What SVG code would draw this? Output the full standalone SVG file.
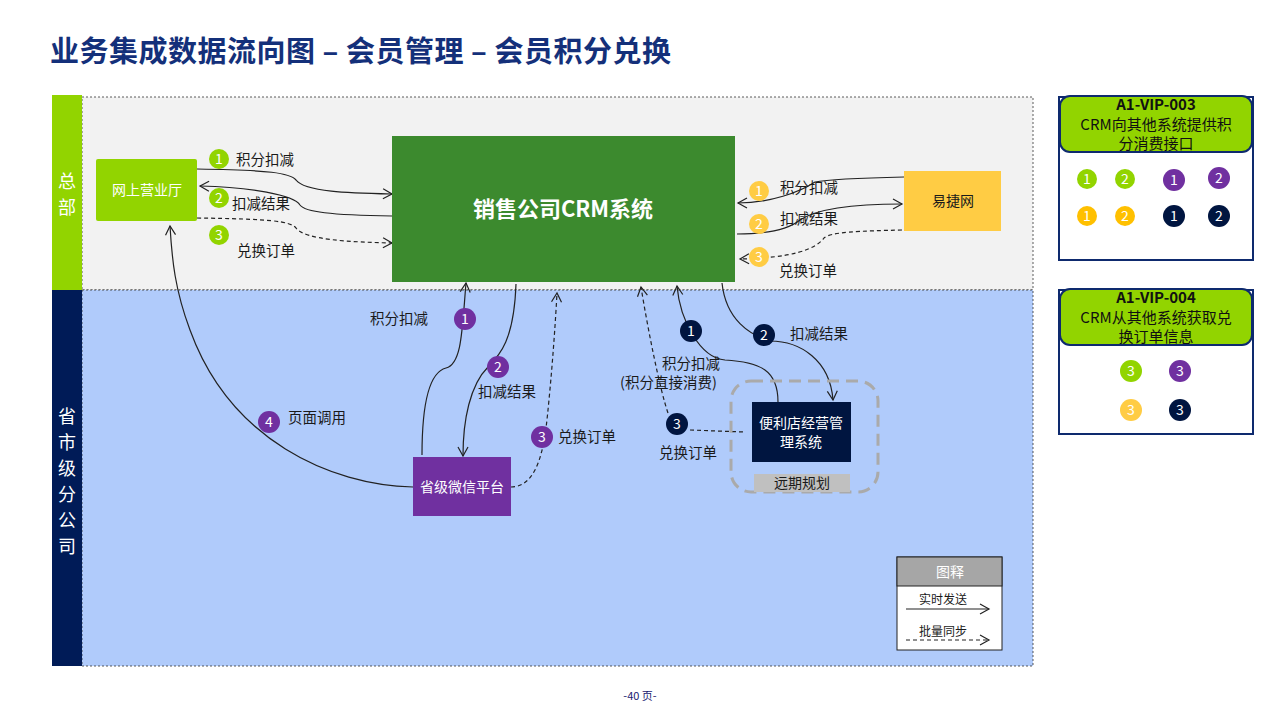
<svg xmlns="http://www.w3.org/2000/svg" width="1280" height="720" viewBox="0 0 1280 720">
<defs>
<marker id="arr" markerWidth="12" markerHeight="12" refX="10" refY="6" orient="auto" markerUnits="userSpaceOnUse"><path d="M1,1 L10,6 L1,11" fill="none" stroke="#222" stroke-width="1.2"/></marker>
<style>
text{font-family:"Noto Sans CJK SC","Liberation Sans",sans-serif;}
.lbl{font-size:14.5px;fill:#1a1a1a;}
.wt{fill:#fff;}
.c{stroke:#222;stroke-width:1.2;fill:none;marker-end:url(#arr);}
.d{stroke:#222;stroke-width:1.2;fill:none;stroke-dasharray:4,3;marker-end:url(#arr);}
.num{font-size:14px;fill:#fff;text-anchor:middle;}
.g{fill:#92d400;}
.p{fill:#7030a0;}
.y{fill:#ffc000;}
.yl{fill:#ffcc44;}
.n{fill:#001540;}
</style>
</defs>
<rect width="1280" height="720" fill="#fff"/>
<text x="50" y="62" font-size="29" font-weight="bold" fill="#14307a" letter-spacing="0.5">业务集成数据流向图 – 会员管理 – 会员积分兑换</text>

<g id="lanes">
<rect x="82" y="97" width="951" height="193" fill="#f2f2f2" stroke="#333" stroke-width="0.8" stroke-dasharray="2,2"/>
<rect x="82" y="290" width="951" height="376" fill="#b0cbfb" stroke="#333" stroke-width="0.8" stroke-dasharray="2,2"/>
<rect x="52" y="95" width="30" height="195" fill="#92d400"/>
<rect x="52" y="290" width="30" height="376" fill="#001b57"/>
<g font-size="18" fill="#fff" text-anchor="middle">
<text x="67" y="188">总</text><text x="67" y="214">部</text>
<text x="67" y="423">省</text><text x="67" y="449">市</text><text x="67" y="475">级</text><text x="67" y="501">分</text><text x="67" y="527">公</text><text x="67" y="553">司</text>
</g>
</g>

<g id="connectors">
<path class="c" d="M197,169 C270,170 290,173 296,180 C305,192 350,193 392,194"/>
<path class="c" d="M392,216 C330,215 305,212 300,205 C294,195 250,187 200,186"/>
<path class="d" d="M197,218 C270,219 290,221 296,228 C305,240 350,242 392,243"/>
<path class="c" d="M904,177 C860,178 830,179 815,182 C800,192 770,203 738,203"/>
<path class="c" d="M737,234 C770,234 790,228 800,220 C815,210 850,204 902,204"/>
<path class="d" d="M902,230 C860,231 830,232 824,238 C815,250 790,258 740,259"/>
<path class="c" d="M422,455 C422,400 430,372 446,368 C462,364 462,330 466,283"/>
<path class="c" d="M516,284 C514,340 500,355 488,367 C470,385 463,420 463,456"/>
<path class="d" d="M511,487 C540,487 545,440 548,410 C552,370 555,330 557,293"/>
<path class="c" d="M413,487 C330,485 230,440 190,330 C175,290 172,260 170,226"/>
<path class="c" d="M778,402 C778,370 760,362 725,360 C700,358 680,320 677,286"/>
<path class="c" d="M722,283 C726,320 750,335 770,341 C800,341 830,360 833,400"/>
<path class="d" d="M668,413 C660,390 648,330 641,287"/>
<path stroke="#222" stroke-width="1.2" fill="none" stroke-dasharray="4,3" d="M690,430 L744,432"/>
</g>

<g id="crm"><rect x="392" y="136" width="343" height="146" fill="#3c8a2e"/><text x="563" y="217" font-size="22" font-weight="bold" fill="#fff" text-anchor="middle">销售公司CRM系统</text></g>
<g id="wsyyt"><rect x="96" y="159" width="101" height="62" rx="2" fill="#92d400"/><text x="147" y="195" font-size="14" fill="#fff" text-anchor="middle">网上营业厅</text></g>
<g id="yjw"><rect x="904" y="171" width="97" height="60" fill="#ffcc44"/><text x="953" y="206" font-size="14" fill="#1a1a1a" text-anchor="middle">易捷网</text></g>
<g id="wx"><rect x="413" y="457" width="98" height="59" fill="#7030a0"/><text x="462" y="492" font-size="14" fill="#fff" text-anchor="middle">省级微信平台</text></g>
<g id="future"><rect x="731" y="381" width="147" height="111" rx="20" fill="none" stroke="#aaa" stroke-width="3" stroke-dasharray="12,7"/>
<rect x="754" y="474" width="96" height="18" fill="#c0c0c0"/><text x="802" y="488" font-size="14" fill="#1a1a1a" text-anchor="middle">远期规划</text></g>
<g id="bld"><rect x="752" y="402" width="99" height="60" fill="#001540"/><text x="801" y="428" font-size="14" fill="#fff" text-anchor="middle">便利店经营管</text><text x="801" y="447" font-size="14" fill="#fff" text-anchor="middle">理系统</text></g>

<g id="labels">
<circle class="g" cx="219" cy="159" r="10"/><text class="num" x="219" y="164">1</text><text class="lbl" x="236" y="165">积分扣减</text>
<circle class="g" cx="219" cy="198" r="10"/><text class="num" x="219" y="203">2</text><text class="lbl" x="232" y="209">扣减结果</text>
<circle class="g" cx="219" cy="235" r="10"/><text class="num" x="219" y="240">3</text><text class="lbl" x="237" y="256">兑换订单</text>
<circle class="yl" cx="759" cy="191" r="10"/><text class="num" x="759" y="196">1</text><text class="lbl" x="780" y="193">积分扣减</text>
<circle class="yl" cx="759" cy="224" r="10"/><text class="num" x="759" y="229">2</text><text class="lbl" x="780" y="224">扣减结果</text>
<circle class="yl" cx="759" cy="257" r="10"/><text class="num" x="759" y="262">3</text><text class="lbl" x="779" y="276">兑换订单</text>
<circle class="p" cx="465" cy="319" r="11"/><text class="num" x="465" y="324">1</text><text class="lbl" x="370" y="324">积分扣减</text>
<circle class="p" cx="498" cy="367" r="11"/><text class="num" x="498" y="372">2</text><text class="lbl" x="478" y="397">扣减结果</text>
<circle class="p" cx="542" cy="437" r="11"/><text class="num" x="542" y="442">3</text><text class="lbl" x="558" y="442">兑换订单</text>
<circle class="p" cx="269" cy="422" r="11"/><text class="num" x="269" y="427">4</text><text class="lbl" x="288" y="423">页面调用</text>
<circle class="n" cx="691" cy="331" r="11"/><text class="num" x="691" y="336">1</text><text class="lbl" x="662" y="369">积分扣减</text><text class="lbl" x="620" y="388">(积分直接消费)</text>
<circle class="n" cx="764" cy="335" r="11"/><text class="num" x="764" y="340">2</text><text class="lbl" x="790" y="339">扣减结果</text>
<circle class="n" cx="677" cy="424" r="11"/><text class="num" x="677" y="429">3</text><text class="lbl" x="659" y="458">兑换订单</text>
</g>

<g id="legend">
<rect x="897" y="557" width="105" height="93" fill="#fff" stroke="#222" stroke-width="1"/>
<rect x="897" y="557" width="105" height="29" fill="#a6a6a6" stroke="#222" stroke-width="1"/>
<text x="950" y="577" font-size="14" fill="#fff" text-anchor="middle">图释</text>
<text x="943" y="604" font-size="12" fill="#1a1a1a" text-anchor="middle">实时发送</text>
<path class="c" d="M906,609 L989,609"/>
<text x="943" y="636" font-size="12" fill="#1a1a1a" text-anchor="middle">批量同步</text>
<path class="d" d="M906,640 L989,640"/>
</g>

<g id="vip003">
<rect x="1059" y="97" width="194" height="163" fill="#fff" stroke="#0e2a6e" stroke-width="2"/>
<rect x="1060" y="96" width="192" height="56" rx="10" fill="#92d400" stroke="#0e2a6e" stroke-width="2"/>
<text x="1156" y="110" font-size="15" font-weight="bold" fill="#111" text-anchor="middle">A1-VIP-003</text>
<text x="1156" y="130" font-size="15" fill="#111" text-anchor="middle">CRM向其他系统提供积</text>
<text x="1156" y="149" font-size="15" fill="#111" text-anchor="middle">分消费接口</text>
<circle class="g" cx="1087" cy="179" r="10"/><text class="num" x="1087" y="184">1</text>
<circle class="g" cx="1125" cy="179" r="10"/><text class="num" x="1125" y="184">2</text>
<circle class="p" cx="1174" cy="180" r="11"/><text class="num" x="1174" y="185">1</text>
<circle class="p" cx="1219" cy="178" r="11"/><text class="num" x="1219" y="183">2</text>
<circle class="y" cx="1087" cy="216" r="10"/><text class="num" x="1087" y="221">1</text>
<circle class="y" cx="1125" cy="216" r="10"/><text class="num" x="1125" y="221">2</text>
<circle class="n" cx="1174" cy="216" r="11"/><text class="num" x="1174" y="221">1</text>
<circle class="n" cx="1219" cy="216" r="11"/><text class="num" x="1219" y="221">2</text>
</g>

<g id="vip004">
<rect x="1059" y="290" width="194" height="144" fill="#fff" stroke="#0e2a6e" stroke-width="2"/>
<rect x="1060" y="289" width="192" height="56" rx="10" fill="#92d400" stroke="#0e2a6e" stroke-width="2"/>
<text x="1156" y="303" font-size="15" font-weight="bold" fill="#111" text-anchor="middle">A1-VIP-004</text>
<text x="1156" y="323" font-size="15" fill="#111" text-anchor="middle">CRM从其他系统获取兑</text>
<text x="1156" y="342" font-size="15" fill="#111" text-anchor="middle">换订单信息</text>
<circle class="g" cx="1131" cy="371" r="11"/><text class="num" x="1131" y="376">3</text>
<circle class="p" cx="1180" cy="371" r="11"/><text class="num" x="1180" y="376">3</text>
<circle class="yl" cx="1131" cy="410" r="11"/><text class="num" x="1131" y="415">3</text>
<circle class="n" cx="1180" cy="410" r="11"/><text class="num" x="1180" y="415">3</text>
</g>

<text x="640" y="700" font-size="11" fill="#1a2070" text-anchor="middle">-40 页-</text>
</svg>
